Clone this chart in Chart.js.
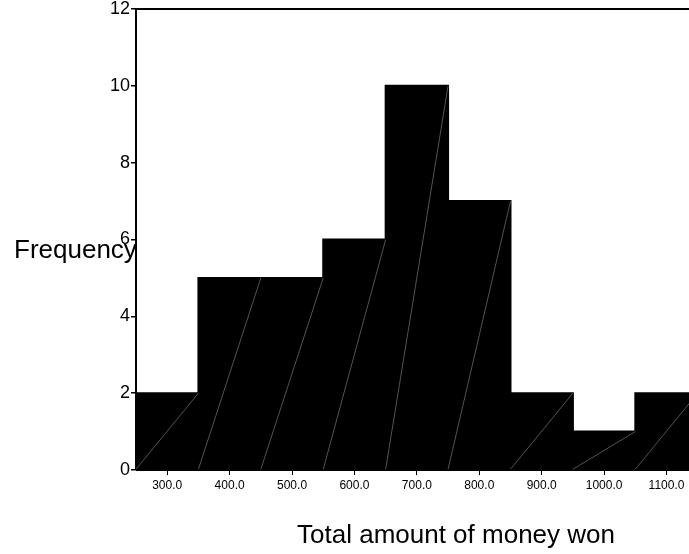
<!DOCTYPE html>
<html>
<head>
<meta charset="utf-8">
<script src="https://cdn.jsdelivr.net/npm/chart.js@4"></script>
<style>
  html, body { margin: 0; padding: 0; background: #fff; }
  #wrap { position: relative; width: 689px; height: 554px; }
</style>
</head>
<body>
<div id="wrap"><canvas id="hist" width="689" height="554"></canvas></div>
<script>
// histogram data
const binCenters = [300, 400, 500, 600, 700, 800, 900, 1000, 1100];
const frequencies = [2, 5, 5, 6, 10, 7, 2, 1, 2];
const xTickValues = [300, 400, 500, 600, 700, 800, 900, 1000, 1100];
const yTickValues = [0, 2, 4, 6, 8, 10, 12];
const xTitle = 'Total amount of money won';
const yTitle = 'Frequency';

const FONT = 'Arial, "Liberation Sans", sans-serif';

// thin diagonal streaks inside each bar + top frame line + titles
const extras = {
    id: 'extras',
    afterDatasetsDraw(chart) {
        const ctx = chart.ctx;
        const area = chart.chartArea;
        const meta = chart.getDatasetMeta(0);
        ctx.save();
        ctx.beginPath();
        ctx.rect(area.left, area.top, area.right - area.left, area.bottom - area.top);
        ctx.clip();
        ctx.strokeStyle = '#8a8a8a';
        ctx.lineWidth = 0.6;
        meta.data.forEach(bar => {
            const p = bar.getProps(['x', 'y', 'base', 'width'], true);
            ctx.beginPath();
            ctx.moveTo(p.x - p.width / 2, p.base);
            ctx.lineTo(p.x + p.width / 2, p.y);
            ctx.stroke();
        });
        ctx.restore();

        ctx.save();
        ctx.strokeStyle = '#000';
        ctx.lineWidth = 2;
        ctx.beginPath();
        ctx.moveTo(area.left, area.top);
        ctx.lineTo(chart.width, area.top);
        ctx.stroke();
        ctx.restore();
    },
    afterDraw(chart) {
        const ctx = chart.ctx;
        ctx.save();
        ctx.fillStyle = '#000';
        ctx.font = '26px ' + FONT;
        ctx.textBaseline = 'alphabetic';
        ctx.textAlign = 'left';
        ctx.fillText(yTitle, 14, 258);
        ctx.textAlign = 'center';
        ctx.fillText(xTitle, 456, 543);
        ctx.restore();
    }
};

new Chart(document.getElementById('hist'), {
    type: 'bar',
    data: {
        datasets: [{
            label: yTitle,
            data: binCenters.map((c, i) => ({ x: c, y: frequencies[i] })),
            backgroundColor: '#000',
            borderWidth: 0,
            inflateAmount: 1,
            barPercentage: 1,
            categoryPercentage: 1
        }]
    },
    options: {
        responsive: false,
        animation: false,
        layout: { padding: 0 },
        plugins: { legend: { display: false }, tooltip: { enabled: false } },
        scales: {
            x: {
                type: 'linear',
                min: 250,
                max: 1136,
                offset: false,
                afterBuildTicks: scale => { scale.ticks = xTickValues.map(v => ({ value: v })); },
                afterFit: scale => { scale.height = 84; },
                border: { display: true, color: '#000', width: 1 },
                grid: { display: true, offset: false, drawOnChartArea: false, drawTicks: true, tickLength: 5, color: '#000' },
                ticks: {
                    color: '#000',
                    font: { family: FONT, size: 12 },
                    padding: 3,
                    maxRotation: 0,
                    autoSkip: false,
                    callback: v => Number(v).toFixed(1)
                }
            },
            y: {
                min: 0,
                max: 12,
                afterBuildTicks: scale => { scale.ticks = yTickValues.map(v => ({ value: v })); },
                afterFit: scale => { scale.width = 136; scale.paddingTop = 9; },
                border: { display: true, color: '#000', width: 2 },
                grid: { display: true, drawOnChartArea: false, drawTicks: true, tickLength: 5, color: '#000', lineWidth: 1.5 },
                ticks: {
                    color: '#000',
                    font: { family: FONT, size: 18 },
                    padding: 1
                }
            }
        }
    },
    plugins: [extras]
});
</script>
</body>
</html>
